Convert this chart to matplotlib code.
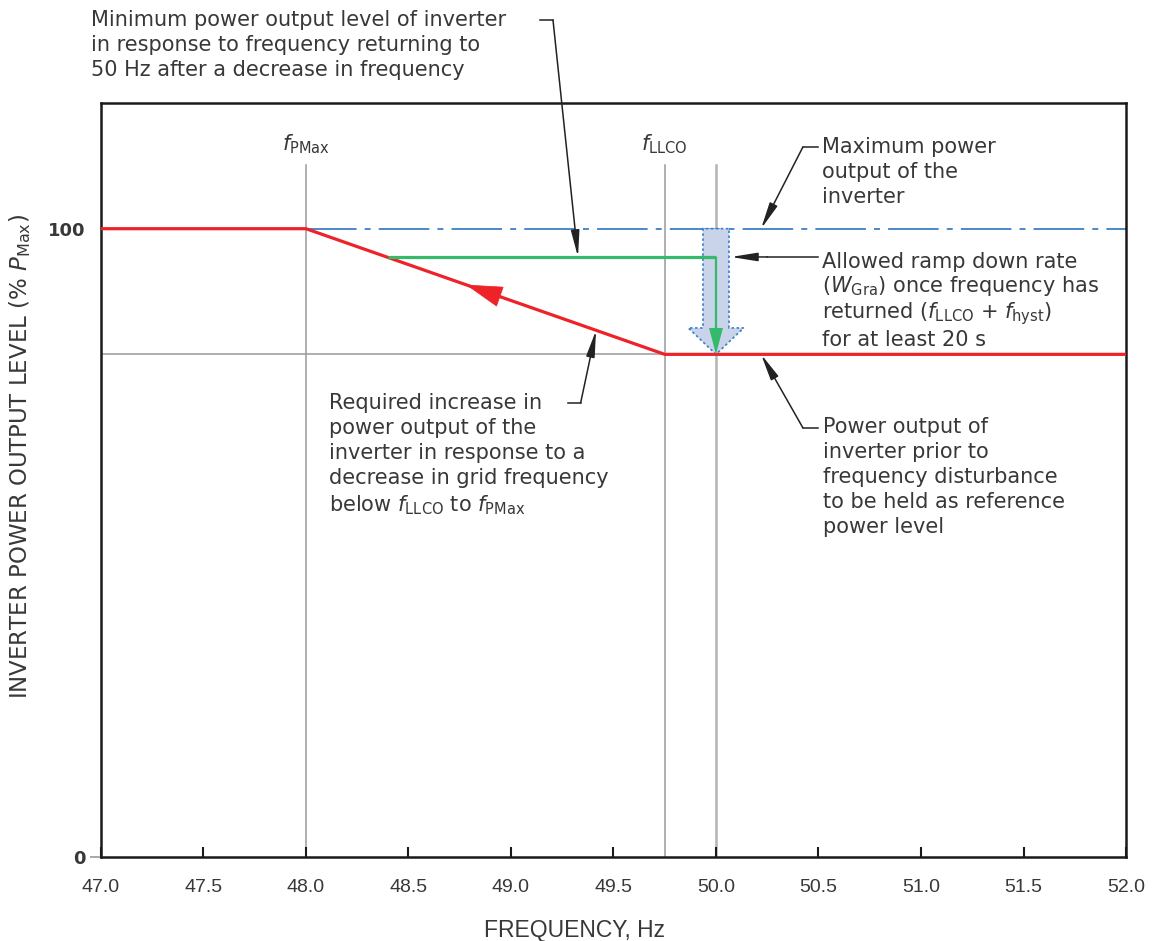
import numpy as np
import matplotlib
matplotlib.use("Agg")
import matplotlib.pyplot as plt
from matplotlib.patches import FancyArrow

plt.rcParams['font.family'] = ['DejaVu Sans']
plt.rcParams['mathtext.fontset'] = 'dejavusans'

# Daten der Kennlinie
freq_rot = [47.0, 48.0, 49.75, 52.0]
leistung_rot = [100, 100, 80, 80]
freq_gruen = [48.4, 50.0]
niveau_gruen = 95.5
freq_blau = [48.0, 52.0]
niveau_max = 100
niveau_ref = 80
f_pmax = 48.0
f_llco = 49.75
f_nenn = 50.0
x_ticks = [47.0, 47.5, 48.0, 48.5, 49.0, 49.5, 50.0, 50.5, 51.0, 51.5, 52.0]
y_ticks = [0, 100]

rot = '#ee2229'
gruen = '#35b96a'
blau = '#3a7fc6'
grau = '#9a9a9a'
text_farbe = '#383838'

fig = plt.figure(figsize=(11.55, 9.41), dpi=100)
ax = fig.add_axes([0.0874, 0.0893, 0.8875, 0.8012])
ax.set_xlim(47.0, 52.0)
ax.set_ylim(0, 120)

# graue Hilfslinien
for f in [f_pmax, f_llco]:
    ax.plot([f, f], [0, 110.2], color=grau, lw=1.1, zorder=1)
ax.plot([f_nenn, f_nenn], [0, 110.2], color='#b4b4b4', lw=1.8, zorder=1)
ax.plot([freq_rot[0], f_llco], [niveau_ref, niveau_ref], color=grau, lw=1.1, zorder=1)

# blaue Strich-Punkt-Linie (max. Leistung)
ax.plot(freq_blau, [niveau_max, niveau_max], color=blau, lw=1.3,
        dashes=[28, 4.5, 3.3, 4.5], zorder=2)

# hohler blauer Pfeil
pfeil_blau = FancyArrow(f_nenn, niveau_max, 0, niveau_ref - niveau_max,
                        width=0.127, head_width=0.27, head_length=4.2,
                        length_includes_head=True, facecolor='#c9d4ea',
                        edgecolor=blau, lw=1.2, linestyle=(0, (1.5, 1.5)), zorder=3)
ax.add_patch(pfeil_blau)

# rote Kennlinie
ax.plot(freq_rot, leistung_rot, color=rot, lw=2.3, zorder=4, solid_capstyle='butt')
spitze_x, basis_x = 48.78, 49.05
ax.annotate('', xy=(spitze_x, np.interp(spitze_x, freq_rot, leistung_rot)),
            xytext=(basis_x, np.interp(basis_x, freq_rot, leistung_rot)),
            arrowprops=dict(arrowstyle='-|>,head_length=1.25,head_width=0.36',
                            mutation_scale=20, color=rot, lw=0.5,
                            shrinkA=0, shrinkB=0), zorder=5)

# grüne Linie mit Pfeil
ax.plot(freq_gruen, [niveau_gruen, niveau_gruen], color=gruen, lw=2.3, zorder=4,
        solid_capstyle='butt')
ax.add_patch(FancyArrow(f_nenn, niveau_gruen, 0, niveau_ref - niveau_gruen,
                        width=0.011, head_width=0.068, head_length=4.2,
                        length_includes_head=True, color=gruen, lw=0, zorder=5))

# Beschriftungen f_PMax, f_LLCO
ax.text(f_pmax, 112.4, r'$f_{\mathrm{PMax}}$', ha='center', va='baseline',
        fontsize=15, color=text_farbe)
ax.text(f_llco, 112.4, r'$f_{\mathrm{LLCO}}$', ha='center', va='baseline',
        fontsize=15, color=text_farbe)


def hinweis(punkte, spitze):
    xs = [p[0] for p in punkte]
    ys = [p[1] for p in punkte]
    ax.plot(xs, ys, color='#222222', lw=1.1, clip_on=False, zorder=6)
    ax.annotate('', xy=spitze, xytext=punkte[-1],
                arrowprops=dict(arrowstyle='-|>,head_length=1.0,head_width=0.16',
                                mutation_scale=16, color='#222222', lw=1.1,
                                shrinkA=0, shrinkB=0),
                annotation_clip=False, zorder=6)


tkw = dict(fontsize=15, color=text_farbe, va='top', ha='left',
           linespacing=1.31, clip_on=False)

ax.text(46.951, 134.8, 'Minimum power output level of inverter\n'
        'in response to frequency returning to\n'
        '50 Hz after a decrease in frequency', **tkw)
hinweis([(49.14, 133.2), (49.205, 133.2)],
        (49.327, niveau_gruen))

ax.text(50.518, 114.6, 'Maximum power\noutput of the\ninverter', **tkw)
hinweis([(50.497, 113.0), (50.424, 113.0)], (50.22, niveau_max))

ax.text(50.518, 96.3, 'Allowed ramp down rate\n'
        r'($W_{\mathrm{Gra}}$) once frequency has' '\n'
        r'returned ($f_{\mathrm{LLCO}}$ + $f_{\mathrm{hyst}}$)' '\n'
        'for at least 20 s', fontsize=15, color=text_farbe, va='top', ha='left',
        linespacing=1.13, clip_on=False)
hinweis([(50.497, niveau_gruen), (50.25, niveau_gruen)], (50.073, niveau_gruen))

ax.text(48.111, 73.8, 'Required increase in\n'
        'power output of the\n'
        'inverter in response to a\n'
        'decrease in grid frequency\n'
        r'below $f_{\mathrm{LLCO}}$ to $f_{\mathrm{PMax}}$', **tkw)
spitze_req = 49.415
hinweis([(49.278, 72.3), (49.34, 72.3)],
        (spitze_req, np.interp(spitze_req, freq_rot, leistung_rot)))

ax.text(50.523, 70.0, 'Power output of\n'
        'inverter prior to\n'
        'frequency disturbance\n'
        'to be held as reference\n'
        'power level', **tkw)
hinweis([(50.497, 68.3), (50.424, 68.3)], (50.22, niveau_ref))

# Achsen
for s in ax.spines.values():
    s.set_linewidth(1.8)
    s.set_color('#1a1a1a')
ax.set_xticks(x_ticks)
ax.set_xticklabels([f'{t:.1f}' for t in x_ticks],
                   family=['Liberation Sans', 'DejaVu Sans'], fontsize=14)
ax.tick_params(axis='x', direction='in', length=7, width=1.5, pad=16,
               labelcolor=text_farbe, color='#1a1a1a')
ax.set_yticks(y_ticks)
ax.set_yticklabels([str(t) for t in y_ticks], fontsize=13, fontweight='bold')
ax.tick_params(axis='y', direction='out', length=8, width=1.2, pad=3,
               labelcolor=text_farbe, color=grau)
ax.yaxis.get_major_ticks()[1].tick1line.set_visible(False)

fig.text(575 / 1155, 1 - 930 / 941, 'FREQUENCY, Hz', ha='center', va='center',
         fontsize=16.5, color=text_farbe, family=['Liberation Sans', 'DejaVu Sans'])
fig.text(20 / 1155, 1 - 457 / 941, r'INVERTER POWER OUTPUT LEVEL (% $P_{\mathrm{Max}}$)',
         rotation=90, ha='center', va='center', fontsize=16.5, color=text_farbe)

fig.savefig('out.png', dpi=100)
